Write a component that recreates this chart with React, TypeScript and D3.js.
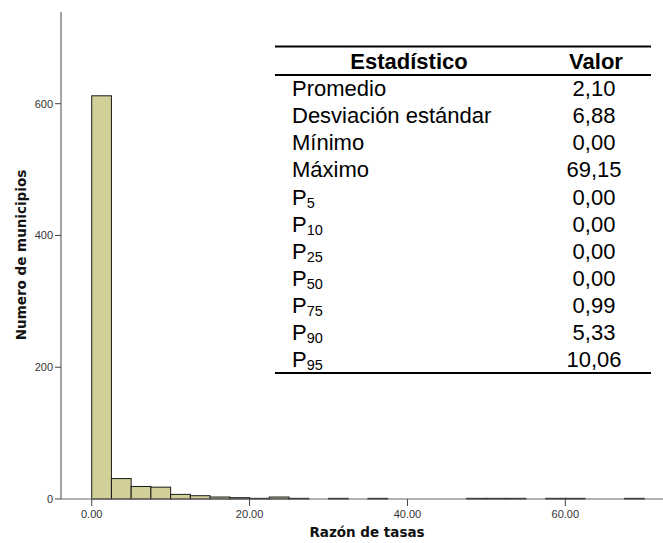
import React from "react";
import * as d3 from "d3";

// Histogram of rate ratios per municipality (bins of width 2.5)
const binWidth = 2.5;
const binCounts = [
  612, 31, 19, 18, 7, 5, 3, 2, 1, 3, 1, 0, 1, 0, 1, 0, 0, 0, 0, 1, 1, 1, 0, 1, 1, 0, 0, 1,
];
const xTicks = [0, 20, 40, 60];
const yTicks = [0, 200, 400, 600];

// Summary statistics table
const statLabels = ["Promedio", "Desviación estándar", "Mínimo", "Máximo"];
const statValues = ["2,10", "6,88", "0,00", "69,15"];
const percentileNames = ["5", "10", "25", "50", "75", "90", "95"];
const percentileValues = ["0,00", "0,00", "0,00", "0,00", "0,99", "5,33", "10,06"];

const W = 663;
const H = 543;
const FONT = "'Liberation Sans', Arial, sans-serif";
const TITLE_FONT = "'DejaVu Sans', Verdana, sans-serif";

export default function App() {
  const x = d3.scaleLinear().domain([0, 70]).range([91.7, 644.3]);
  const y = d3.scaleLinear().domain([0, 600]).range([499, 103.7]);
  const axisX = 61;
  const axisY = y(0);

  const bins = binCounts.map((c, i) => ({ x0: i * binWidth, x1: (i + 1) * binWidth, count: c }));

  const rows = [
    ...statLabels.map((l, i) => ({ label: l, sub: null as string | null, value: statValues[i] })),
    ...percentileNames.map((p, i) => ({ label: "P", sub: p, value: percentileValues[i] })),
  ];

  const tblLeft = 275;
  const tblRight = 651;
  const rowBase = 96.3;
  const rowStep = 27.06;

  return (
    <svg width={W} height={H} style={{ position: "absolute", left: 0, top: 0, background: "#fff" }}>
      {/* bars */}
      <g>
        {bins
          .filter((b) => b.count > 0)
          .map((b, i) => (
            <rect
              key={i}
              x={x(b.x0)}
              y={y(b.count)}
              width={x(b.x1) - x(b.x0)}
              height={axisY - y(b.count)}
              fill="#d3cf98"
              stroke="#1a1a1a"
              strokeWidth={1}
            />
          ))}
      </g>

      {/* y axis */}
      <line x1={axisX} x2={axisX} y1={12} y2={axisY} stroke="#666" strokeWidth={1.2} />
      {yTicks.map((t) => (
        <g key={t}>
          <line x1={axisX - 6} x2={axisX} y1={y(t)} y2={y(t)} stroke="#444" strokeWidth={1} />
          <text
            x={axisX - 8}
            y={y(t)}
            dy="0.35em"
            textAnchor="end"
            fontFamily={FONT}
            fontSize={11}
            fill="#333"
          >
            {t}
          </text>
        </g>
      ))}

      {/* x axis */}
      <line x1={axisX} x2={W} y1={axisY} y2={axisY} stroke="#666" strokeWidth={1.2} />
      {xTicks.map((t) => (
        <g key={t}>
          <line x1={x(t)} x2={x(t)} y1={axisY} y2={axisY + 7} stroke="#444" strokeWidth={1} />
          <text
            x={x(t)}
            y={axisY + 19}
            textAnchor="middle"
            fontFamily={FONT}
            fontSize={11}
            fill="#333"
          >
            {d3.format(".2f")(t)}
          </text>
        </g>
      ))}

      {/* axis titles */}
      <text
        x={367}
        y={537}
        textAnchor="middle"
        fontFamily={TITLE_FONT}
        fontSize={13.5}
        fontWeight="bold"
        fill="#111"
      >
        Razón de tasas
      </text>
      <text
        transform={`translate(26,255) rotate(-90)`}
        textAnchor="middle"
        fontFamily={TITLE_FONT}
        fontSize={13.5}
        fontWeight="bold"
        fill="#111"
      >
        Numero de municipios
      </text>

      {/* statistics table */}
      <g fontFamily={FONT} fill="#000">
        <line x1={tblLeft} x2={tblRight} y1={46.5} y2={46.5} stroke="#000" strokeWidth={2} />
        <line x1={tblLeft} x2={tblRight} y1={75} y2={75} stroke="#000" strokeWidth={2} />
        <text x={409} y={69} textAnchor="middle" fontSize={22} fontWeight="bold">
          Estadístico
        </text>
        <text x={596} y={69} textAnchor="middle" fontSize={22} fontWeight="bold">
          Valor
        </text>
        {rows.map((r, i) => (
          <g key={i}>
            <text x={292} y={rowBase + rowStep * i} fontSize={22}>
              {r.label}
              {r.sub !== null && (
                <tspan fontSize={14.5} dy={3.5}>
                  {r.sub}
                </tspan>
              )}
            </text>
            <text x={594} y={rowBase + rowStep * i} textAnchor="middle" fontSize={22}>
              {r.value}
            </text>
          </g>
        ))}
        <line x1={tblLeft} x2={tblRight} y1={373} y2={373} stroke="#000" strokeWidth={2} />
      </g>
    </svg>
  );
}
